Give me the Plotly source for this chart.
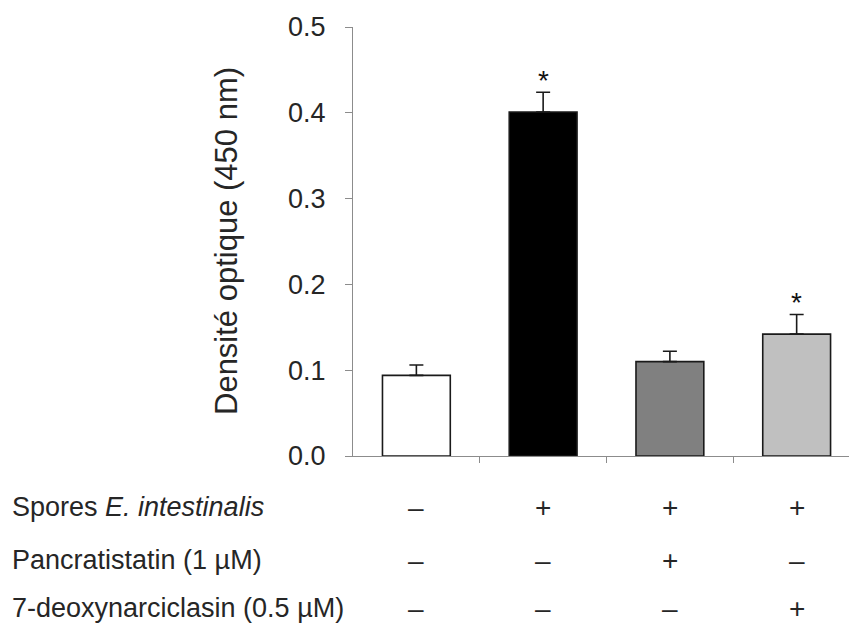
import plotly.graph_objects as go

categories = ["Contrôle", "Spores", "Spores + Pancratistatin", "Spores + 7-deoxynarciclasin"]
values = [0.094, 0.401, 0.110, 0.142]
errors = [0.012, 0.023, 0.012, 0.023]
bar_colors = ["#ffffff", "#000000", "#808080", "#c0c0c0"]
significant = [False, True, False, True]
y_ticks = [0.0, 0.1, 0.2, 0.3, 0.4, 0.5]
y_tick_labels = ["0.0", "0.1", "0.2", "0.3", "0.4", "0.5"]
y_title = "Densité optique (450 nm)"
row_labels = ["Spores <i>E. intestinalis</i>", "Pancratistatin (1 µM)", "7-deoxynarciclasin (0.5 µM)"]
row_signs = [
    ["–", "+", "+", "+"],
    ["–", "–", "+", "–"],
    ["–", "–", "–", "+"],
]

FONT = "Liberation Sans, Arial, sans-serif"
TXT = "#262626"
W, H = 849, 626
plot_left, plot_right = 353, 849
plot_top, plot_bottom = 27, 456
xs = list(range(len(categories)))


def px_to_paper_x(px):
    return (px - plot_left) / (plot_right - plot_left)


def px_to_paper_y(py):
    return (plot_bottom - py) / (plot_bottom - plot_top)


fig = go.Figure()
fig.add_trace(go.Bar(
    x=xs, y=values, width=0.535,
    marker=dict(color=bar_colors, line=dict(color="#1a1a1a", width=1.6)),
    error_y=dict(type="data", array=errors, arrayminus=[0] * len(errors), symmetric=False,
                 color="#1a1a1a", thickness=1.6, width=7),
    showlegend=False,
))

annotations = []
for i, (v, e, s) in enumerate(zip(values, errors, significant)):
    if s:
        annotations.append(dict(x=xs[i], y=v + e, xref="x", yref="y", text="*",
                                showarrow=False, yanchor="middle", yshift=12,
                                font=dict(family=FONT, size=28, color="#111111")))

row_y_px = [507, 560, 608]
for r, (lab, signs) in enumerate(zip(row_labels, row_signs)):
    yp = px_to_paper_y(row_y_px[r])
    annotations.append(dict(x=px_to_paper_x(10), y=yp, xref="paper", yref="paper", text=lab,
                            showarrow=False, xanchor="left", yanchor="middle",
                            font=dict(family=FONT, size=27, color=TXT)))
    for i, sg in enumerate(signs):
        annotations.append(dict(x=xs[i], y=yp, xref="x", yref="paper", text=sg,
                                showarrow=False, xanchor="center", yanchor="middle",
                                font=dict(family=FONT, size=28, color=TXT)))

annotations.append(dict(x=px_to_paper_x(226), y=px_to_paper_y(241), xref="paper", yref="paper",
                        text=y_title, textangle=-90, showarrow=False,
                        xanchor="center", yanchor="middle",
                        font=dict(family=FONT, size=31, color=TXT)))

fig.update_layout(
    width=W, height=H,
    margin=dict(l=plot_left, r=W - plot_right, t=plot_top, b=H - plot_bottom, pad=0),
    paper_bgcolor="#ffffff", plot_bgcolor="#ffffff",
    font=dict(family=FONT, size=26, color=TXT),
    annotations=annotations,
)
fig.update_xaxes(
    range=[-0.5, 3.413], showline=True, linecolor="#8c8c8c", linewidth=1.3,
    tickmode="array", tickvals=[0.5, 1.5, 2.5], ticktext=["", "", ""],
    ticks="outside", ticklen=6, tickcolor="#8c8c8c", tickwidth=1.3,
    showgrid=False, zeroline=False, fixedrange=True,
)
fig.update_yaxes(
    range=[0, 0.5], showline=True, linecolor="#8c8c8c", linewidth=1.3,
    tickmode="array", tickvals=y_ticks, ticktext=y_tick_labels,
    ticks="outside", ticklen=7, tickcolor="#8c8c8c", tickwidth=1.3,
    ticklabelstandoff=14,
    tickfont=dict(family=FONT, size=27, color=TXT),
    showgrid=False, zeroline=False,
)

fig.write_html("out.html", config={"displayModeBar": False},
               post_script="document.body.style.margin='0';document.body.style.overflow='hidden';")
